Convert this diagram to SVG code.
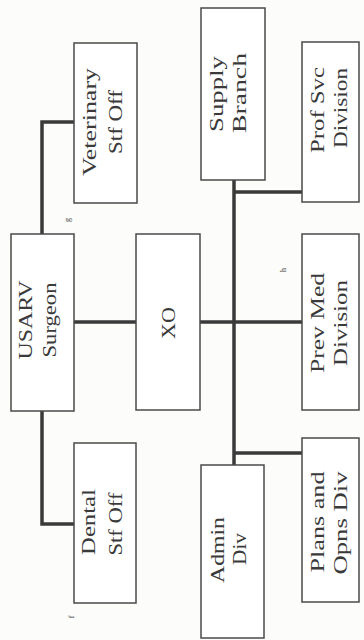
<svg xmlns="http://www.w3.org/2000/svg" width="364" height="640" viewBox="0 0 364 640">
<style>
.box{fill:#ffffff;stroke:#4a4a4a;stroke-width:1.5}
.lbl{font-family:"Liberation Serif","Times New Roman",serif;font-size:19px;fill:#3a3a3a;text-anchor:middle}
.fn{font-family:"Liberation Serif","Times New Roman",serif;font-size:8px;fill:#444;text-anchor:middle}
.con{fill:none;stroke:#3a3a3a;stroke-width:3.5;stroke-linejoin:miter}
</style>
<rect width="364" height="640" fill="#fcfcfa"/>
<g id="connectors">
<polyline class="con" points="42,234 42,122 74,122"/>
<polyline class="con" points="42,411 42,524 74,524"/>
<line class="con" x1="74" y1="322" x2="136" y2="322"/>
<line class="con" x1="200" y1="322" x2="302" y2="322"/>
<line class="con" x1="234" y1="180" x2="234" y2="465"/>
<line class="con" x1="234" y1="192" x2="302" y2="192"/>
<line class="con" x1="234" y1="453" x2="302" y2="453"/>
</g>
<g id="usarv">
<rect class="box" x="11" y="234" width="63" height="177"/>
<text class="lbl" x="32" y="320" transform="rotate(-90 32 320)" textLength="79" lengthAdjust="spacingAndGlyphs">USARV</text>
<text class="lbl" x="56" y="320" transform="rotate(-90 56 320)" textLength="75" lengthAdjust="spacingAndGlyphs">Surgeon</text>
</g>
<g id="veterinary">
<rect class="box" x="74" y="43" width="63" height="160"/>
<text class="lbl" x="96" y="122" transform="rotate(-90 96 122)" textLength="108" lengthAdjust="spacingAndGlyphs">Veterinary</text>
<text class="lbl" x="122" y="122" transform="rotate(-90 122 122)" textLength="64" lengthAdjust="spacingAndGlyphs">Stf Off</text>
<text class="fn" x="70" y="220" transform="rotate(-90 70 220)">g</text>
</g>
<g id="dental">
<rect class="box" x="74" y="443" width="62" height="160"/>
<text class="lbl" x="95" y="522" transform="rotate(-90 95 522)" textLength="66" lengthAdjust="spacingAndGlyphs">Dental</text>
<text class="lbl" x="122" y="524" transform="rotate(-90 122 524)" textLength="63" lengthAdjust="spacingAndGlyphs">Stf Off</text>
<text class="fn" x="74" y="617" transform="rotate(-90 74 617)">f</text>
</g>
<g id="xo">
<rect class="box" x="136" y="234" width="64" height="176"/>
<text class="lbl" x="175" y="323" transform="rotate(-90 175 323)" textLength="32" lengthAdjust="spacingAndGlyphs">XO</text>
</g>
<g id="supply">
<rect class="box" x="201" y="8" width="64" height="172"/>
<text class="lbl" x="223" y="94" transform="rotate(-90 223 94)" textLength="76" lengthAdjust="spacingAndGlyphs">Supply</text>
<text class="lbl" x="246" y="93" transform="rotate(-90 246 93)" textLength="80" lengthAdjust="spacingAndGlyphs">Branch</text>
</g>
<g id="admin">
<rect class="box" x="201" y="465" width="63" height="173"/>
<text class="lbl" x="224" y="550" transform="rotate(-90 224 550)" textLength="66" lengthAdjust="spacingAndGlyphs">Admin</text>
<text class="lbl" x="246" y="549" transform="rotate(-90 246 549)" textLength="32" lengthAdjust="spacingAndGlyphs">Div</text>
</g>
<g id="profsvc">
<rect class="box" x="302" y="42" width="57" height="160"/>
<text class="lbl" x="324" y="110" transform="rotate(-90 324 110)" textLength="86" lengthAdjust="spacingAndGlyphs">Prof  Svc</text>
<text class="lbl" x="347" y="108" transform="rotate(-90 347 108)" textLength="80" lengthAdjust="spacingAndGlyphs">Division</text>
</g>
<g id="prevmed">
<rect class="box" x="302" y="234" width="57" height="176"/>
<text class="lbl" x="324" y="323" transform="rotate(-90 324 323)" textLength="100" lengthAdjust="spacingAndGlyphs">Prev  Med</text>
<text class="lbl" x="347" y="323" transform="rotate(-90 347 323)" textLength="86" lengthAdjust="spacingAndGlyphs">Division</text>
<text class="fn" x="286" y="270" transform="rotate(-90 286 270)">h</text>
</g>
<g id="plans">
<rect class="box" x="302" y="438" width="57" height="164"/>
<text class="lbl" x="324" y="522" transform="rotate(-90 324 522)" textLength="101" lengthAdjust="spacingAndGlyphs">Plans and</text>
<text class="lbl" x="347" y="523" transform="rotate(-90 347 523)" textLength="103" lengthAdjust="spacingAndGlyphs">Opns Div</text>
</g>
</svg>
